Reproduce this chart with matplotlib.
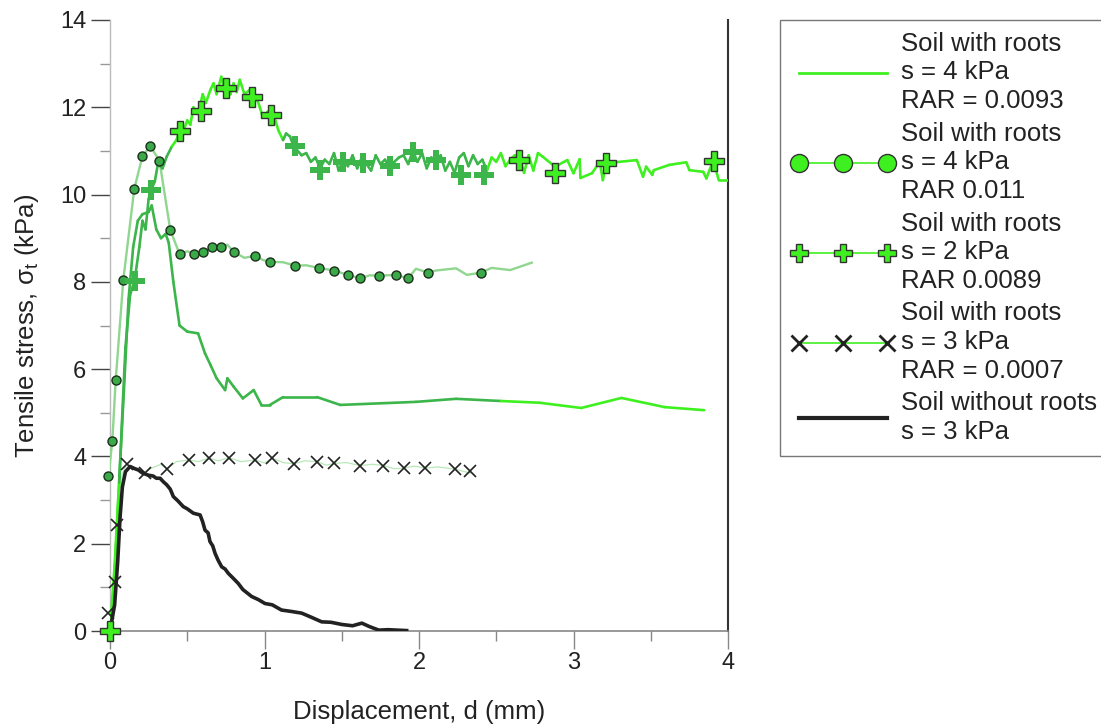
import numpy as np
import matplotlib
matplotlib.use("Agg")
import matplotlib.pyplot as plt
from matplotlib.collections import LineCollection
from matplotlib.lines import Line2D
from matplotlib.ticker import MultipleLocator

MED = "#3cb54a"; LIME = "#3ff020"; INK = "#222222"
PALE = "#8fd68f"; FAINT = "#b9e8b9"

plt.rcParams.update({"font.family": ["Liberation Sans", "DejaVu Sans"], "font.size": 17,
                     "mathtext.fontset": "custom", "mathtext.rm": "Liberation Sans",
                     "mathtext.it": "Liberation Sans"})

# --- data: displacement d (mm), tensile stress (kPa) ---
# soil with roots, s = 4 kPa, RAR = 0.0093 (solid, no markers)
a_d = [0, 0.03, 0.06, 0.09, 0.12, 0.15, 0.18, 0.21, 0.25, 0.27, 0.30, 0.33, 0.36, 0.38, 0.41,
       0.45, 0.50, 0.57, 0.615, 0.65, 0.69, 0.745, 0.76, 0.80, 0.86, 0.93, 0.98, 1.035, 1.12,
       1.34, 1.49, 1.98, 2.24, 2.53, 2.78, 3.05, 3.31, 3.59, 3.845]
a_s = [0, 1.5, 3.5, 5.5, 7.6, 8.8, 9.4, 9.55, 9.6, 9.75, 9.2, 9.0, 9.1, 8.9, 8.0,
       7.0, 6.86, 6.82, 6.36, 6.1, 5.79, 5.52, 5.79, 5.6, 5.33, 5.52, 5.18, 5.18, 5.36,
       5.36, 5.18, 5.25, 5.32, 5.27, 5.23, 5.11, 5.34, 5.13, 5.06]

# soil with roots, s = 4 kPa, RAR 0.011 (circles)
b_d = [-0.01, 0.015, 0.037, 0.086, 0.157, 0.21, 0.26, 0.32, 0.39, 0.45, 0.50, 0.546, 0.60,
       0.66, 0.72, 0.76, 0.80, 0.87, 0.94, 0.99, 1.035, 1.12, 1.20, 1.27, 1.35, 1.45, 1.54,
       1.62, 1.68, 1.74, 1.85, 1.93, 1.98, 2.06, 2.11, 2.24, 2.31, 2.40, 2.47, 2.59, 2.73]
b_s = [3.55, 4.35, 5.75, 8.04, 10.13, 10.88, 11.11, 10.78, 9.19, 8.64, 8.7, 8.64, 8.68,
       8.79, 8.80, 8.85, 8.69, 8.55, 8.6, 8.5, 8.46, 8.45, 8.37, 8.38, 8.32, 8.26, 8.16,
       8.08, 8.15, 8.14, 8.16, 8.08, 8.3, 8.21, 8.26, 8.31, 8.16, 8.21, 8.32, 8.27, 8.44]
b_mk_d = [-0.01, 0.015, 0.037, 0.086, 0.157, 0.21, 0.26, 0.32, 0.39, 0.45, 0.546, 0.60, 0.66,
          0.72, 0.80, 0.94, 1.035, 1.20, 1.35, 1.45, 1.54, 1.62, 1.74, 1.85, 1.93, 2.06, 2.40]
b_mk_s = [3.55, 4.35, 5.75, 8.04, 10.13, 10.88, 11.11, 10.78, 9.19, 8.64, 8.64, 8.68, 8.79,
          8.80, 8.69, 8.6, 8.46, 8.37, 8.32, 8.26, 8.16, 8.08, 8.14, 8.16, 8.08, 8.21, 8.21]

# soil with roots, s = 2 kPa, RAR 0.0089 (plus)
c_d = [0, 0.02, 0.04, 0.06, 0.08, 0.10, 0.13, 0.16, 0.19, 0.21, 0.23, 0.25, 0.265, 0.29, 0.31,
       0.34, 0.367, 0.40, 0.43, 0.45, 0.47, 0.50, 0.52, 0.54, 0.57, 0.60, 0.62, 0.65, 0.67,
       0.69, 0.72, 0.74, 0.76, 0.78, 0.80, 0.82, 0.84, 0.87, 0.906, 0.93, 0.95, 0.97, 0.99,
       1.02, 1.05, 1.07, 1.09, 1.12, 1.14, 1.165, 1.19,
       1.21, 1.24, 1.27, 1.30, 1.33, 1.36, 1.39, 1.42, 1.45, 1.48, 1.51, 1.54, 1.57, 1.60,
       1.63, 1.66, 1.69, 1.72, 1.75, 1.78, 1.81, 1.84, 1.87, 1.90, 1.93, 1.96, 1.99, 2.02,
       2.05, 2.08, 2.11, 2.14, 2.17, 2.20, 2.23, 2.26, 2.29, 2.32, 2.35, 2.38, 2.41, 2.44,
       2.47, 2.50, 2.53, 2.56, 2.59, 2.62, 2.65, 2.68, 2.71, 2.74, 2.77,
       2.80, 2.88, 2.96, 3.0, 3.04, 3.045, 3.12, 3.17, 3.19, 3.21, 3.41, 3.45, 3.47, 3.51,
       3.52, 3.62, 3.73, 3.75, 3.84, 3.86, 3.905, 3.94, 4.0]
c_s = [0, 0.8, 2.0, 3.4, 5.0, 6.5, 7.7, 8.05, 8.8, 9.4, 9.2, 9.9, 10.1, 10.3, 10.7,
       10.6, 10.87, 11.1, 11.25, 11.46, 11.4, 11.7, 11.6, 12.0, 11.85, 12.3, 12.1, 12.4, 12.55,
       12.3, 12.7, 12.4, 12.6, 12.3, 12.55, 12.35, 12.63, 12.3, 12.4, 12.1, 12.2, 12.0, 11.76,
       11.9, 11.63, 11.7, 11.47, 11.25, 11.4, 11.33, 11.1,
       11.02, 10.9, 10.95, 10.75, 10.85, 10.6, 10.8, 10.7, 10.95, 10.55, 10.8, 10.65, 10.9, 10.6,
       10.85, 10.7, 10.55, 10.9, 10.7, 10.8, 10.6, 10.75, 10.85, 10.9, 10.7, 11.0, 10.75, 10.95,
       10.6, 10.85, 10.7, 10.9, 10.55, 10.75, 10.5, 10.85, 10.95, 10.65, 10.9, 10.7, 10.8, 10.55,
       10.85, 10.75, 10.95, 10.65, 10.8, 10.9, 10.85, 10.5, 10.9, 10.55, 10.95,
       10.87, 10.64, 10.79, 10.49, 10.81, 10.38, 10.49, 10.75, 10.33, 10.72, 10.79, 10.41, 10.64,
       10.45, 10.56, 10.68, 10.74, 10.56, 10.52, 10.37, 10.79, 10.33, 10.33]
c_mk_d = [0, 0.16, 0.265, 0.45, 0.59, 0.75, 0.92, 1.04, 1.197, 1.36, 1.51, 1.64, 1.81, 1.96,
          2.11, 2.27, 2.42, 2.65, 2.88, 3.21, 3.91]
c_mk_s = [0, 8.02, 10.1, 11.46, 11.92, 12.44, 12.24, 11.82, 11.11, 10.56, 10.75, 10.72, 10.66,
          10.98, 10.8, 10.45, 10.45, 10.79, 10.49, 10.73, 10.78]

# soil with roots, s = 3 kPa, RAR = 0.0007 (crosses)
x_d = [0, 0.02, 0.03, 0.04, 0.06, 0.08, 0.108, 0.16, 0.226, 0.28, 0.33, 0.367, 0.43, 0.51, 0.57,
       0.64, 0.70, 0.77, 0.85, 0.94, 1.0, 1.05, 1.12, 1.19, 1.26, 1.34, 1.40, 1.45, 1.53,
       1.62, 1.70, 1.77, 1.84, 1.90, 1.97, 2.04, 2.12, 2.23, 2.33]
x_s = [0, 0.6, 1.1, 2.4, 3.2, 3.6, 3.83, 3.7, 3.65, 3.75, 3.82, 3.72, 3.88, 3.92, 3.88,
       3.96, 3.9, 3.97, 3.88, 3.92, 3.85, 3.96, 3.86, 3.83, 3.9, 3.88, 3.8, 3.84, 3.86,
       3.79, 3.82, 3.79, 3.72, 3.73, 3.78, 3.73, 3.76, 3.71, 3.62]
x_mk_d = [-0.01, 0.03, 0.043, 0.108, 0.226, 0.367, 0.51, 0.64, 0.77, 0.94, 1.05, 1.19, 1.34,
          1.45, 1.62, 1.77, 1.90, 2.04, 2.23, 2.33]
x_mk_s = [0.42, 1.12, 2.43, 3.83, 3.61, 3.71, 3.92, 3.96, 3.97, 3.92, 3.96, 3.83, 3.88,
          3.84, 3.79, 3.79, 3.73, 3.73, 3.71, 3.67]

# soil without roots, s = 3 kPa (black)
e_d = [0, 0.03, 0.05, 0.065, 0.08, 0.10, 0.13, 0.16, 0.183, 0.21, 0.248, 0.28, 0.30, 0.324,
       0.345, 0.367, 0.39, 0.41, 0.44, 0.474, 0.50, 0.539, 0.56, 0.583, 0.60, 0.615, 0.635,
       0.647, 0.665, 0.68, 0.70, 0.723, 0.745, 0.766, 0.80, 0.83, 0.86, 0.917, 0.96, 1.003,
       1.05, 1.11, 1.17, 1.24, 1.30, 1.37, 1.43, 1.50, 1.57, 1.63, 1.68, 1.74, 1.80, 1.92]
e_s = [0, 0.6, 1.6, 2.6, 3.3, 3.65, 3.77, 3.72, 3.69, 3.62, 3.57, 3.55, 3.5, 3.5,
       3.42, 3.35, 3.25, 3.08, 2.98, 2.85, 2.8, 2.7, 2.68, 2.66, 2.5, 2.31, 2.25,
       2.05, 1.95, 1.78, 1.62, 1.47, 1.42, 1.32, 1.2, 1.09, 0.95, 0.79, 0.72, 0.63,
       0.6, 0.48, 0.45, 0.41, 0.32, 0.21, 0.2, 0.15, 0.12, 0.18, 0.1, 0.02, 0.03, 0.01]

labels = ["Soil with roots\ns = 4 kPa\nRAR = 0.0093",
          "Soil with roots\ns = 4 kPa\nRAR 0.011",
          "Soil with roots\ns = 2 kPa\nRAR 0.0089",
          "Soil with roots\ns = 3 kPa\nRAR = 0.0007",
          "Soil without roots\ns = 3 kPa"]

LIME_RANGES = {"a": [(-1, 0.06), (2.45, 9)],
               "c": [(-1, 0.06), (0.4, 1.12), (2.45, 9)]}

def is_lime(d, key):
    return any(lo <= d < hi for lo, hi in LIME_RANGES[key])

def grad_line(ax, d, s, key, lw, z):
    pts = np.column_stack([d, s])
    segs = np.stack([pts[:-1], pts[1:]], axis=1)
    cols = [LIME if is_lime(0.5 * (d[i] + d[i + 1]), key) else MED for i in range(len(d) - 1)]
    ax.add_collection(LineCollection(segs, colors=cols, linewidths=lw, zorder=z,
                                     capstyle="round", joinstyle="round"))

fig = plt.figure(figsize=(11.01, 7.28), dpi=100)
ax = fig.add_axes([110 / 1101, 97 / 728, 618 / 1101, 611 / 728])

grad_line(ax, a_d, a_s, "a", 1.9, 3)
ax.plot(x_d, x_s, color=FAINT, lw=0.9, zorder=2)
ax.plot(x_mk_d, x_mk_s, ls="none", marker="x", ms=8, mew=1.2, color=INK, zorder=6, clip_on=False)
ax.plot(b_d, b_s, color=PALE, lw=1.7, zorder=4)
ax.plot(b_mk_d, b_mk_s, ls="none", marker="o", ms=6.5, mfc="#3aaa48", mec="#1c2e1c", mew=1.0,
        zorder=5, clip_on=False)
grad_line(ax, c_d, c_s, "c", 1.9, 4)
ax.plot(e_d, e_s, color=INK, lw=2.6, zorder=5)
for d, s in zip(c_mk_d, c_mk_s):
    lime = is_lime(d, "c")
    ax.plot(d, s, marker="P", ms=15, mfc=LIME if lime else MED,
            mec="#333333" if lime else MED, mew=1.0 if lime else 0.0,
            zorder=7, clip_on=False)

ax.set_xlim(0, 4); ax.set_ylim(0, 14)
ax.xaxis.set_major_locator(MultipleLocator(1)); ax.xaxis.set_minor_locator(MultipleLocator(0.5))
ax.yaxis.set_major_locator(MultipleLocator(2)); ax.yaxis.set_minor_locator(MultipleLocator(1))
ax.spines["top"].set_visible(False)
ax.spines["left"].set_color("#bbbbbb"); ax.spines["left"].set_linewidth(1.0)
ax.spines["bottom"].set_color("#888888"); ax.spines["bottom"].set_linewidth(1.2)
ax.spines["right"].set_color("#333333"); ax.spines["right"].set_linewidth(1.5)
ax.tick_params(axis="y", which="major", direction="out", length=14, width=1.0, color="#444444",
               pad=3, labelsize=17, labelcolor="#222222")
ax.tick_params(axis="y", which="minor", direction="out", length=7, width=1.0, color="#999999")
ax.tick_params(axis="x", which="major", direction="out", length=13, width=1.0, color="#888888",
               pad=2, labelsize=17, labelcolor="#222222")
ax.tick_params(axis="x", which="minor", direction="out", length=7, width=1.0, color="#888888")
ax.set_xlabel("Displacement, d (mm)", fontsize=18.5, labelpad=19, color="#222222")
ax.set_ylabel("Tensile stress, σ$_{\\mathrm{t}}$ (kPa)", fontsize=18.5, labelpad=14, color="#222222")

h = [Line2D([0], [0], color=LIME, lw=2),
     Line2D([0], [0], color=LIME, lw=1.2, marker="o", ms=13, mfc=LIME, mec="#333333", mew=1.0),
     Line2D([0], [0], color=LIME, lw=1.2, marker="P", ms=13, mfc=LIME, mec="#333333", mew=1.0),
     Line2D([0], [0], color=LIME, lw=1.2, marker="x", ms=12, mew=2.0, mec=INK),
     Line2D([0], [0], color=INK, lw=3)]
leg = fig.legend(handles=h, labels=labels, loc="upper left", bbox_to_anchor=(780 / 1101, 708 / 728),
                 bbox_transform=fig.transFigure, fontsize=18.5, numpoints=3, handlelength=4.0,
                 handletextpad=0.25, labelspacing=0.33, borderpad=0.45, borderaxespad=0,
                 fancybox=False, frameon=True, edgecolor="#555555")
leg.get_frame().set_linewidth(1.0)
for t in leg.get_texts():
    t.set_color("#222222")
    t.set_linespacing(1.25)

fig.savefig("out.png", dpi=100)
